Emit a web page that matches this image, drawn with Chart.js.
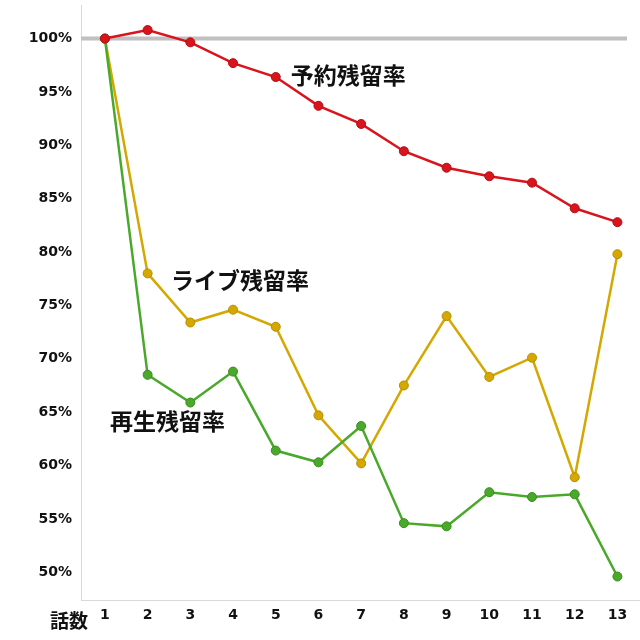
<!DOCTYPE html>
<html>
<head>
<meta charset="utf-8">
<script src="https://cdn.jsdelivr.net/npm/chart.js@4"></script>
<style>
  html, body { margin: 0; padding: 0; background: #fff; overflow: hidden; }
  #wrap { width: 640px; height: 640px; }
  canvas { display: block; }
</style>
</head>
<body>
<div id="wrap"><canvas id="chart"></canvas></div>
<script>
// episodes
const episodes = [1, 2, 3, 4, 5, 6, 7, 8, 9, 10, 11, 12, 13];
// retention rates (%)
const yoyaku = [100, 100.8, 99.65, 97.7, 96.4, 93.7, 92.0, 89.45, 87.9, 87.1, 86.5, 84.1, 82.8];
const live = [100, 78.0, 73.4, 74.6, 73.0, 64.7, 60.2, 67.5, 74.0, 68.3, 70.1, 58.9, 79.8];
const saisei = [100, 68.5, 65.9, 68.8, 61.4, 60.3, 63.7, 54.6, 54.3, 57.5, 57.05, 57.3, 49.6];
const yTicks = [50, 55, 60, 65, 70, 75, 80, 85, 90, 95, 100];

const jpFont = "'Noto Sans CJK JP', sans-serif";
const tickFont = { family: "'DejaVu Sans', Verdana, sans-serif", size: 14, weight: "bold" };

//gray base line at 100% + series names
const overlay = {
  id: "overlay",
  beforeDatasetsDraw(chart) {
    const { ctx, chartArea, scales } = chart;
    const y = scales.y.getPixelForValue(100);
    ctx.save();
    ctx.strokeStyle = "#c0c0c0";
    ctx.lineWidth = 4;
    ctx.beginPath();
    ctx.moveTo(chartArea.left, y);
    ctx.lineTo(chart.width - 13, y);
    ctx.stroke();
    // x axis line runs to the edge
    ctx.strokeStyle = "#d9d9d9";
    ctx.lineWidth = 1;
    ctx.beginPath();
    ctx.moveTo(chartArea.right, chartArea.bottom + 0.5);
    ctx.lineTo(chart.width, chartArea.bottom + 0.5);
    ctx.stroke();
    ctx.restore();
  },
  afterDraw(chart) {
    const { ctx, scales } = chart;
    const names = [
      { text: "予約残留率", x: 5.35, y: 96.6 },
      { text: "ライブ残留率", x: 2.55, y: 77.4 },
      { text: "再生残留率", x: 1.12, y: 64.1 },
    ];
    ctx.save();
    ctx.fillStyle = "#111";
    ctx.font = "bold 23px " + jpFont;
    ctx.textAlign = "left";
    ctx.textBaseline = "middle";
    for (const n of names) {
      ctx.fillText(n.text, scales.x.getPixelForValue(n.x), scales.y.getPixelForValue(n.y));
    }
    ctx.font = "bold 19px " + jpFont;
    ctx.fillText("話数", 50, 621);
    ctx.restore();
  },
};

const line = (label, data, color, border) => ({
  label: label,
  data: data.map((v, i) => ({ x: episodes[i], y: v })),
  borderColor: color,
  backgroundColor: color,
  pointBorderColor: border,
  pointBorderWidth: 1,
  pointRadius: 4.5,
  borderWidth: 2.5,
  tension: 0,
});

new Chart(document.getElementById("chart"), {
  type: "line",
  plugins: [overlay],
  data: {
    datasets: [
      line("予約残留率", yoyaku, "#d9141c", "#b01016"),
      line("再生残留率", saisei, "#4aa82a", "#3b8c20"),
      line("ライブ残留率", live, "#d4a800", "#b48f00"),
    ],
  },
  options: {
    responsive: true,
    maintainAspectRatio: false,
    animation: false,
    layout: { padding: { top: 5, right: 0, left: 0, bottom: 0 } },
    plugins: { legend: { display: false }, tooltip: { enabled: false } },
    scales: {
      x: {
        type: "linear",
        min: 0.44,
        max: 13.4,
        grid: { display: false, drawTicks: false },
        border: { color: "#d9d9d9", width: 1 },
        ticks: { color: "#111", font: tickFont, padding: 7, maxRotation: 0 },
        afterBuildTicks(scale) { scale.ticks = episodes.map((v) => ({ value: v })); },
        afterFit(scale) {
          scale.height = 40;
          scale.paddingLeft = 0;
          scale.paddingRight = 0;
        },
      },
      y: {
        min: 47.4,
        max: 103.1,
        grid: { display: false, drawTicks: false },
        border: { color: "#d9d9d9", width: 1 },
        ticks: { color: "#111", font: tickFont, padding: 9, callback: (v) => v + "%" },
        afterBuildTicks(scale) { scale.ticks = yTicks.map((v) => ({ value: v })); },
        afterFit(scale) {
          scale.width = 81;
          scale.paddingTop = 0;
          scale.paddingBottom = 0;
        },
      },
    },
  },
});
</script>
</body>
</html>
